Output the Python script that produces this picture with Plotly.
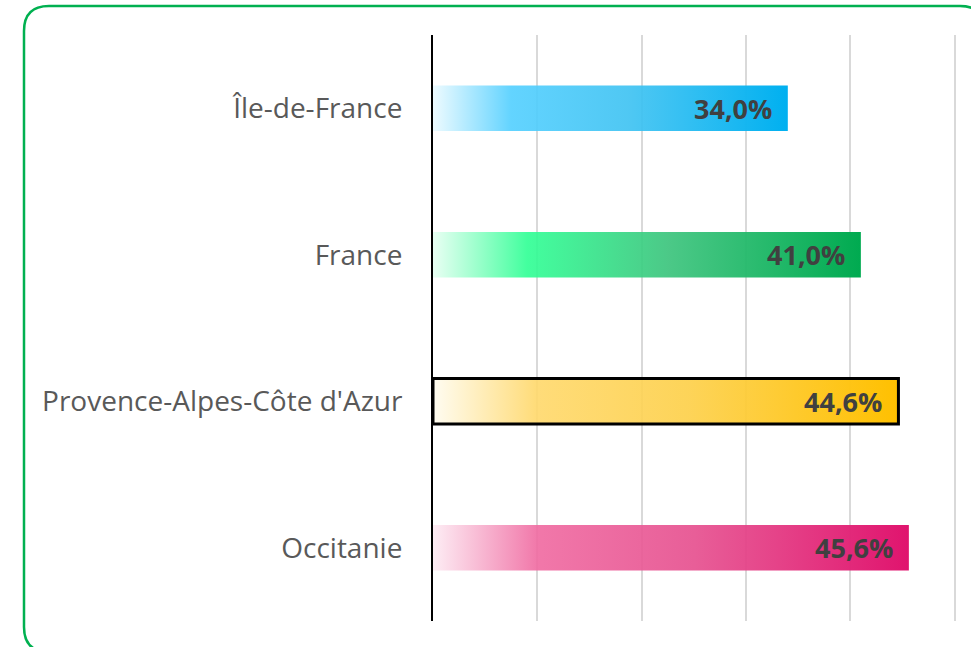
import plotly.graph_objects as go

# ---- data ----
categories = ["Île-de-France", "France", "Provence-Alpes-Côte d'Azur", "Occitanie"]
values = [34.0, 41.0, 44.6, 45.6]
start_colors = ["rgba(235,250,255,0.9)", "rgba(230,255,242,0.9)", "rgba(255,252,240,0.9)", "rgba(253,235,243,0.9)"]
light_colors = ["rgba(85,208,255,0.92)", "rgba(50,255,150,0.92)", "rgba(255,217,110,0.92)", "rgba(240,108,162,0.92)"]
mid_colors = ["rgba(64,195,242,0.92)", "rgba(60,196,125,0.92)", "rgba(253,208,74,0.92)", "rgba(230,80,143,0.92)"]
end_colors = ["rgb(0,176,240)", "rgb(0,170,80)", "rgb(255,192,0)", "rgb(224,20,110)"]
highlighted = "Provence-Alpes-Côte d'Azur"
x_ticks = [0, 10, 20, 30, 40, 50]
x_max = 50.5

bar_half = 0.155

W, H = 971, 647

fig = go.Figure()
for i, (cat, v) in enumerate(zip(categories, values)):
    xs = [0, v, v, 0, 0]
    ys = [i - bar_half, i - bar_half, i + bar_half, i + bar_half, i - bar_half]
    is_hl = cat == highlighted
    fig.add_trace(go.Scatter(
        x=xs, y=ys, mode="lines" if is_hl else "none",
        line=dict(color="black", width=3) if is_hl else None,
        fill="toself",
        fillgradient=dict(type="horizontal",
                          colorscale=[[0, start_colors[i]], [0.22, light_colors[i]],
                                      [0.55, mid_colors[i]], [1, end_colors[i]]]),
        hoverinfo="skip", showlegend=False,
    ))
    fig.add_annotation(x=v, y=i, xref="x", yref="y", text=f"{v:.1f}%".replace(".", ","),
                       showarrow=False, xanchor="right", xshift=-14,
                       font=dict(family="Open Sans", size=27, color="#404040", weight="bold"))

# Rounded frame (paper coordinates computed from pixel layout)
L, T, Wp, Hp = 433, 35, round(x_max * 10.43), 586
def px(x):
    return (x - L) / Wp
def py(y):
    return (T + Hp - y) / Hp
x0, y0, x1, y1, r = 24, 6, 985, 652, 25
path = (f"M {px(x0+r)},{py(y0)} L {px(x1-r)},{py(y0)} Q {px(x1)},{py(y0)} {px(x1)},{py(y0+r)} "
        f"L {px(x1)},{py(y1-r)} Q {px(x1)},{py(y1)} {px(x1-r)},{py(y1)} "
        f"L {px(x0+r)},{py(y1)} Q {px(x0)},{py(y1)} {px(x0)},{py(y1-r)} "
        f"L {px(x0)},{py(y0+r)} Q {px(x0)},{py(y0)} {px(x0+r)},{py(y0)} Z")
fig.add_shape(type="path", path=path, xref="paper", yref="paper",
              line=dict(color="#00B050", width=2.5), layer="below")

fig.update_layout(
    width=W, height=H,
    margin=dict(l=L, r=W - L - Wp, t=T, b=H - T - Hp),
    paper_bgcolor="white", plot_bgcolor="white",
    font=dict(family="Open Sans", color="#595959"),
    xaxis=dict(range=[0, x_max], tickvals=x_ticks, showticklabels=False, showgrid=True,
               gridcolor="#D9D9D9", gridwidth=2, zeroline=False, showline=False, fixedrange=True),
    yaxis=dict(range=[3.5, -0.5], tickvals=list(range(len(categories))), ticktext=categories,
               showgrid=False, zeroline=False, showline=True, linecolor="black", linewidth=2,
               ticks="", ticklabelstandoff=23, tickfont=dict(size=28, color="#595959"),
               fixedrange=True),
)
fig.write_html("out.html", config={"displayModeBar": False},
               post_script="document.body.style.margin='0';document.body.style.overflow='hidden';")
